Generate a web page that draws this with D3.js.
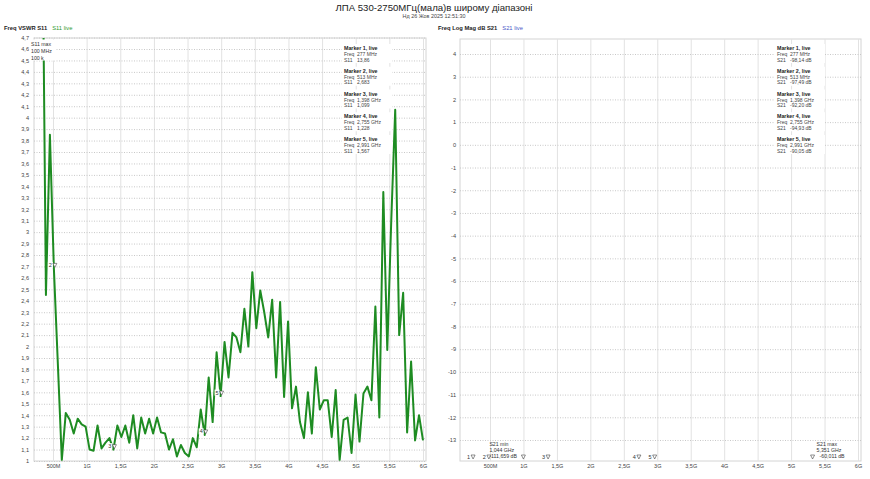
<!DOCTYPE html>
<html>
<head>
<meta charset="utf-8">
<script src="https://cdn.jsdelivr.net/npm/d3@7"></script>
<style>
  body { margin: 0; background: #fff; }
  svg { display: block; font-family: "Liberation Sans", Arial, sans-serif; }
</style>
</head>
<body>
<div id="chart"></div>
<script>
/* VNA screen: VSWR S11 (left) and Log Mag S21 (right) of a log-periodic antenna */

// sweep points, MHz (100 MHz .. 6 GHz, 101 points)
const freqMHz = [
  100, 159, 218, 277, 336, 395, 454, 513, 572, 631,
  690, 749, 808, 867, 926, 985, 1044, 1103, 1162, 1221,
  1280, 1339, 1398, 1457, 1516, 1575, 1634, 1693, 1752, 1811,
  1870, 1929, 1988, 2047, 2106, 2165, 2224, 2283, 2342, 2401,
  2460, 2519, 2578, 2637, 2696, 2755, 2814, 2873, 2932, 2991,
  3050, 3109, 3168, 3227, 3286, 3345, 3404, 3463, 3522, 3581,
  3640, 3699, 3758, 3817, 3876, 3935, 3994, 4053, 4112, 4171,
  4230, 4289, 4348, 4407, 4466, 4525, 4584, 4643, 4702, 4761,
  4820, 4879, 4938, 4997, 5056, 5115, 5174, 5233, 5292, 5351,
  5410, 5469, 5528, 5587, 5646, 5705, 5764, 5823, 5882, 5941,
  6000
];

// S11 VSWR
const s11Vswr = [
  100000, 45, 22, 13.86, 6.2, 2.45, 3.85, 2.683, 1.85, 1.01,
  1.42, 1.36, 1.24, 1.37, 1.32, 1.30, 1.10, 1.09, 1.31, 1.11,
  1.16, 1.20, 1.099, 1.31, 1.21, 1.31, 1.16, 1.40, 1.11, 1.38,
  1.24, 1.37, 1.24, 1.38, 1.25, 1.24, 1.10, 1.19, 1.04, 1.14,
  1.07, 1.04, 1.20, 1.12, 1.45, 1.228, 1.73, 1.34, 1.95, 1.567,
  2.04, 1.73, 2.12, 2.08, 1.95, 2.33, 2.00, 2.65, 2.16, 2.49,
  2.30, 2.08, 2.41, 1.73, 2.39, 1.56, 2.22, 1.46, 1.65, 1.34,
  1.20, 1.60, 1.24, 1.82, 1.45, 1.53, 1.53, 1.21, 1.62, 1.01,
  1.36, 1.38, 1.07, 1.58, 1.17, 1.59, 1.65, 1.53, 2.35, 1.38,
  3.35, 1.97, 3.10, 4.07, 2.10, 2.47, 1.25, 1.87, 1.18, 1.40,
  1.18
];

// markers
const markerFreqMHz = [277, 513, 1398, 2755, 2991];
const markerS11 = [13.86, 2.683, 1.099, 1.228, 1.567];
const markerS21 = [-98.14, -97.49, -92.20, -94.93, -90.05];

// S21 min / max search results
const s21MinFreqMHz = 1044, s21MinValue = -111.659;
const s21MaxFreqMHz = 5351, s21MaxValue = -60.011;

// axis ticks
const xTicks = [500, 1000, 1500, 2000, 2500, 3000, 3500, 4000, 4500, 5000, 5500, 6000];
const xTickLabels = ["500M", "1G", "1,5G", "2G", "2,5G", "3G", "3,5G", "4G", "4,5G", "5G", "5,5G", "6G"];
const yTicksVswr = [1, 1.1, 1.2, 1.3, 1.4, 1.5, 1.6, 1.7, 1.8, 1.9, 2, 2.1, 2.2, 2.3, 2.4, 2.5, 2.6, 2.7, 2.8, 2.9,
  3, 3.1, 3.2, 3.3, 3.4, 3.5, 3.6, 3.7, 3.8, 3.9, 4, 4.1, 4.2, 4.3, 4.4, 4.5, 4.6, 4.7];
const yTicksDb = [4, 3, 2, 1, 0, -1, -2, -3, -4, -5, -6, -7, -8, -9, -10, -11, -12, -13];

const width = 870, height = 479;
const comma = v => String(v).replace(".", ","); // decimal comma
const freqText = f => f < 1000 ? f + " MHz" : (f / 1000).toFixed(3).replace(".", ",") + " GHz";

let svg = d3.select("#chart")
    .append("svg")
    .attr("width", width)
    .attr("height", height)
    .attr("viewBox", [0, 0, width, height]);

// titles
svg.append("text").attr("x", 434).attr("y", 10.5).attr("text-anchor", "middle")
    .style("font-size", "9.6px").style("fill", "#222")
    .text("ЛПА 530-2750МГц(мала)в широму діапазоні");
svg.append("text").attr("x", 434).attr("y", 17.5).attr("text-anchor", "middle")
    .style("font-size", "5.4px").style("fill", "#444")
    .text("Нд 26 Жов 2025 12:51:30");

// panel geometry
const L = { x0: 34, x1: 426, y0: 38, y1: 461 };
const R = { x0: 460, x1: 861, y0: 39, y1: 461 };

let xL = d3.scaleLinear().domain([500, 6000]).range([53, 423]);
let yL = d3.scaleLinear().domain([1, 4.6]).range([461, 49]);
let xR = d3.scaleLinear().domain([500, 6000]).range([490, 858]);
let yR = d3.scaleLinear().domain([4, -13]).range([54, 440]);

function drawGrid(P, x, y, yTicks, yPad) {
    let g = svg.append("g");

    g.append("rect")
        .attr("x", P.x0).attr("y", P.y0)
        .attr("width", P.x1 - P.x0).attr("height", P.y1 - P.y0)
        .attr("fill", "none").attr("stroke", "#d4d4d4");

    // vertical grid + freq labels
    let gx = g.append("g")
        .attr("transform", `translate(0,${P.y1})`)
        .call(d3.axisBottom(x).tickValues(xTicks)
            .tickSize(-(P.y1 - P.y0)).tickPadding(3.5)
            .tickFormat((d, i) => xTickLabels[i]));
    gx.select(".domain").remove();
    gx.selectAll("line").attr("stroke", "#e2e2e2");
    gx.selectAll("text").style("font-size", "5.5px").style("fill", "#444").attr("font-family", null);

    // horizontal dotted grid + labels
    let gy = g.append("g")
        .attr("transform", `translate(${P.x0},0)`)
        .call(d3.axisLeft(y).tickValues(yTicks)
            .tickSize(-(P.x1 - P.x0)).tickPadding(yPad)
            .tickFormat(comma));
    gy.select(".domain").remove();
    gy.selectAll("line").attr("stroke", "#c8c8c8").attr("stroke-dasharray", "1,1.5");
    gy.selectAll("text").style("font-size", "5.6px").style("fill", "#444").attr("font-family", null);
}

drawGrid(L, xL, yL, yTicksVswr, 5);
drawGrid(R, xR, yR, yTicksDb, 4);

// trace headers
let hL = svg.append("text").attr("x", 4).attr("y", 29.5).style("font-size", "5.8px");
hL.append("tspan").style("font-weight", "bold").style("fill", "#222").text("Freq VSWR S11");
hL.append("tspan").attr("dx", 5).style("fill", "#2f9a2f").text("S11 live");

let hR = svg.append("text").attr("x", 438).attr("y", 29.5).style("font-size", "5.8px");
hR.append("tspan").style("font-weight", "bold").style("fill", "#222").text("Freq Log Mag dB S21");
hR.append("tspan").attr("dx", 5).style("fill", "#4a58c8").text("S21 live");

// S11 trace
svg.append("clipPath").attr("id", "clipL")
    .append("rect").attr("x", L.x0).attr("y", L.y0)
    .attr("width", L.x1 - L.x0).attr("height", L.y1 - L.y0);

let line = d3.line()
    .x(d => xL(d[0]))
    .y(d => yL(Math.min(d[1], 60))); // keep huge values finite, clipped anyway

svg.append("path")
    .datum(d3.zip(freqMHz, s11Vswr))
    .attr("clip-path", "url(#clipL)")
    .attr("fill", "none")
    .attr("stroke", "#1e8c22")
    .attr("stroke-width", 2)
    .attr("stroke-linejoin", "round")
    .attr("d", line);

// marker triangle helper (tip at x,y)
function tri(g, x, y) {
    g.append("path")
        .attr("d", `M${x - 2},${y - 4}L${x + 2},${y - 4}L${x},${y}Z`)
        .attr("fill", "#fff").attr("stroke", "#444").attr("stroke-width", 0.6);
}

// markers on S11 trace (only those on screen)
let mk = svg.append("g");
markerFreqMHz.forEach((f, i) => {
    let v = markerS11[i];
    if (v > 4.7) return;
    let x = xL(f) + 1, y = yL(v) - 1;
    mk.append("rect").attr("x", x - 7).attr("y", y - 5.5).attr("width", 5).attr("height", 6).attr("fill", "#fff");
    mk.append("text").attr("x", x - 3).attr("y", y - 0.5).attr("text-anchor", "end")
        .style("font-size", "5.5px").style("fill", "#333").text(i + 1);
    tri(mk, x, y);
});

// markers of S21 are below -13 dB -> parked on bottom edge
markerFreqMHz.forEach((f, i) => {
    let x = xR(f) - 2, y = R.y1 - 2;
    mk.append("text").attr("x", x - 3).attr("y", y).attr("text-anchor", "end")
        .style("font-size", "5.5px").style("fill", "#333").text(i + 1);
    tri(mk, x, y);
});

// S11 max note (top left)
svg.append("rect").attr("x", 29.5).attr("y", 39.5).attr("width", 26).attr("height", 21).attr("fill", "#fff");
["S11 max", "100 MHz", "100 k"].forEach((t, i) => {
    svg.append("text").attr("x", 31).attr("y", 46 + i * 6.8)
        .style("font-size", "5.2px").style("fill", "#333").text(t);
});

// S21 min / max notes
let minX = xR(s21MinFreqMHz) - 3;
tri(mk, minX, R.y1 - 2);
["S21 min", freqText(s21MinFreqMHz), comma(s21MinValue.toFixed(3)) + " dB"].forEach((t, i) => {
    svg.append("text").attr("x", minX - 34).attr("y", 445.5 + i * 6.3)
        .style("font-size", "5.2px").style("fill", "#333").text(t);
});
let maxX = xR(s21MaxFreqMHz) - 2;
tri(mk, maxX, R.y1 - 2);
["S21 max", freqText(s21MaxFreqMHz), comma(s21MaxValue.toFixed(3)) + " dB"].forEach((t, i) => {
    svg.append("text").attr("x", maxX + 4 + (i == 2 ? 3 : 0)).attr("y", 445.5 + i * 6.3)
        .style("font-size", "5.2px").style("fill", "#333").text(t);
});

// marker tables
function markerTable(x0, name, values) {
    let g = svg.append("g");
    markerFreqMHz.forEach((f, i) => {
        let y = 48 + i * 22.75;
        g.append("rect").attr("x", x0 - 2).attr("y", y - 4).attr("width", 50).attr("height", 19).attr("fill", "#fff");
        g.append("text").attr("x", x0).attr("y", y + 2)
            .style("font-size", "5.3px").style("font-weight", "bold").style("fill", "#222")
            .text(`Marker ${i + 1}, live`);
        g.append("text").attr("x", x0).attr("y", y + 8).style("font-size", "5px").style("fill", "#444").text("Freq");
        g.append("text").attr("x", x0 + 13).attr("y", y + 8).style("font-size", "5px").style("fill", "#444").text(freqText(f));
        g.append("text").attr("x", x0).attr("y", y + 13.5).style("font-size", "5px").style("fill", "#444").text(name);
        g.append("text").attr("x", x0 + 13).attr("y", y + 13.5).style("font-size", "5px").style("fill", "#444").text(values[i]);
    });
}
markerTable(344, "S11", markerS11.map(comma));
markerTable(777, "S21", markerS21.map(v => comma(v.toFixed(2)) + " dB"));
</script>
</body>
</html>
